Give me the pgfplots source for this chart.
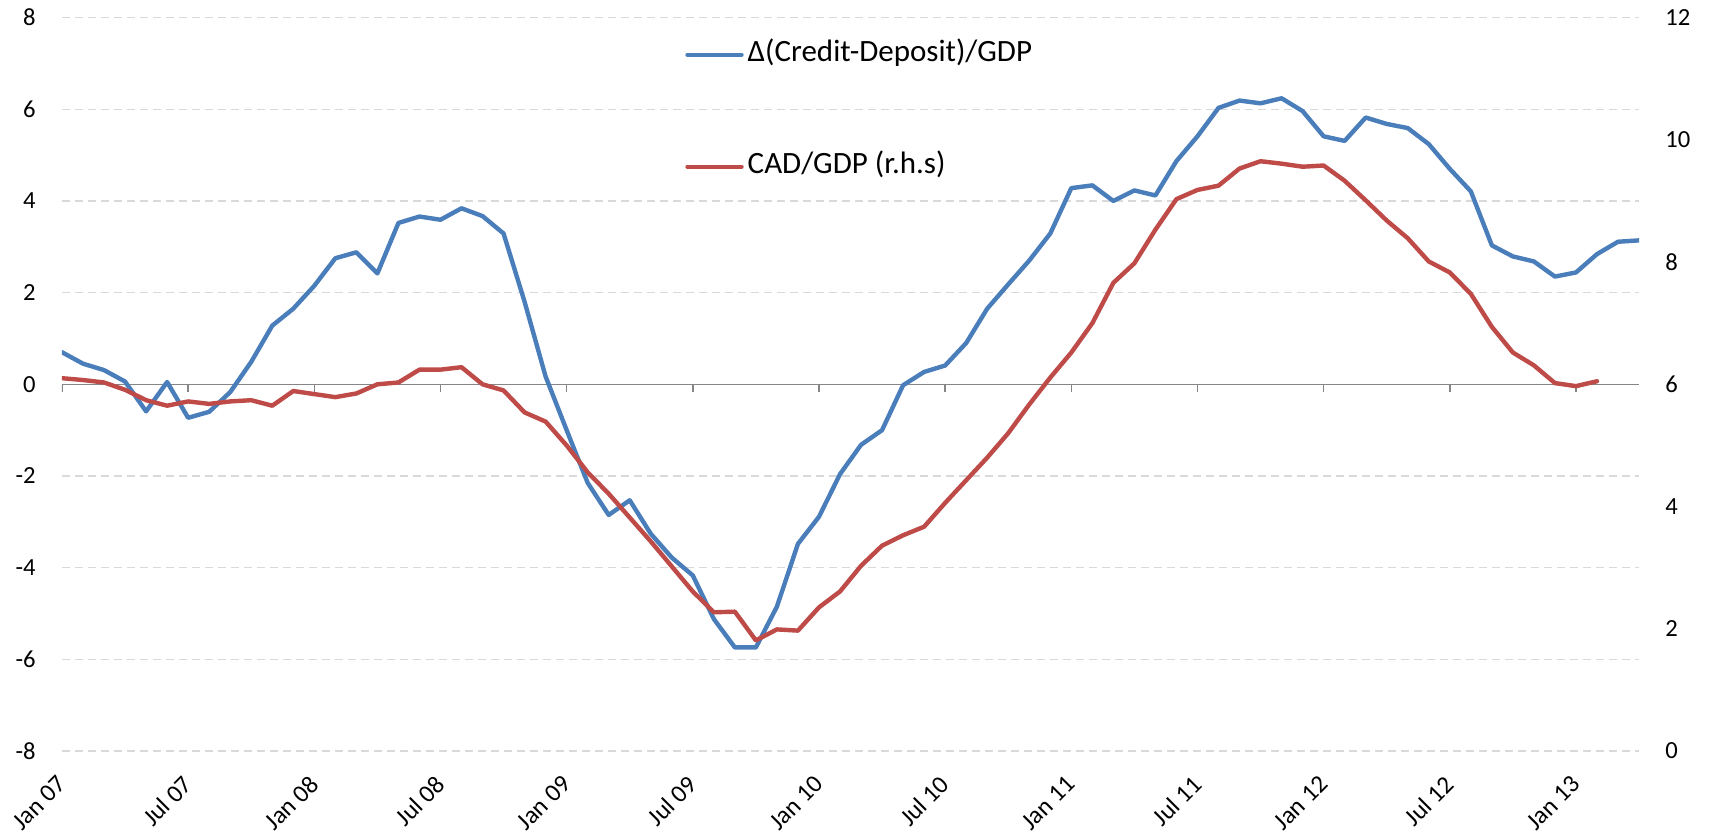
\documentclass[border=0pt]{standalone}
\usepackage{fontspec}
\setmainfont{Carlito}
\usepackage{pgfplots}
\usepackage{pgfplotstable}
\pgfplotsset{compat=1.18}
\definecolor{cdblue}{HTML}{4A7EBB}
\definecolor{cadred}{HTML}{BE4B48}
\definecolor{gridgray}{HTML}{D9D9D9}
\definecolor{axisgray}{HTML}{868686}

% month index: 0 = Jan 07
\pgfplotstableread{
m val
0 0.70
1 0.45
2 0.31
3 0.06
4 -0.59
5 0.05
6 -0.73
7 -0.60
8 -0.17
9 0.49
10 1.28
11 1.65
12 2.15
13 2.75
14 2.88
15 2.42
16 3.52
17 3.66
18 3.59
19 3.84
20 3.67
21 3.29
22 1.80
23 0.17
24 -1.00
25 -2.15
26 -2.85
27 -2.53
28 -3.26
29 -3.78
30 -4.17
31 -5.12
32 -5.74
33 -5.74
34 -4.85
35 -3.48
36 -2.89
37 -1.96
38 -1.32
39 -1.00
40 -0.02
41 0.27
42 0.41
43 0.90
44 1.65
45 2.18
46 2.70
47 3.29
48 4.28
49 4.34
50 4.00
51 4.23
52 4.12
53 4.87
54 5.41
55 6.03
56 6.19
57 6.13
58 6.24
59 5.96
60 5.41
61 5.31
62 5.82
63 5.68
64 5.59
65 5.24
66 4.70
67 4.21
68 3.03
69 2.79
70 2.68
71 2.35
72 2.44
73 2.84
74 3.11
75 3.14
}\creditdata

\pgfplotstableread{
m val
0 6.10
1 6.07
2 6.03
3 5.91
4 5.74
5 5.65
6 5.72
7 5.68
8 5.72
9 5.74
10 5.65
11 5.89
12 5.84
13 5.79
14 5.85
15 6.00
16 6.03
17 6.24
18 6.24
19 6.28
20 6.00
21 5.90
22 5.54
23 5.39
24 5.00
25 4.56
26 4.21
27 3.82
28 3.43
29 3.02
30 2.61
31 2.27
32 2.28
33 1.81
34 1.99
35 1.97
36 2.35
37 2.61
38 3.03
39 3.36
40 3.53
41 3.67
42 4.06
43 4.43
44 4.80
45 5.20
46 5.67
47 6.11
48 6.52
49 7.00
50 7.66
51 7.98
52 8.53
53 9.03
54 9.18
55 9.25
56 9.53
57 9.65
58 9.61
59 9.56
60 9.58
61 9.33
62 9.01
63 8.68
64 8.39
65 8.01
66 7.83
67 7.48
68 6.94
69 6.52
70 6.31
71 6.02
72 5.97
73 6.05
}\caddata

\pgfplotsset{
  chartbase/.style={
    width=788.5pt, height=366.7pt, scale only axis,
    xmin=0, xmax=75,
    /pgf/number format/assume math mode=true,
    tick label style={font=\fontsize{12.3}{14}\selectfont},
    major tick length=0pt,
    axis line style={draw=none},
  },
  cdline/.style={cdblue, line width=2.2pt, line join=round, line cap=round},
  cadline/.style={cadred, line width=2.2pt, line join=round, line cap=round},
}

\begin{document}
\begin{tikzpicture}
\begin{axis}[chartbase,
  ymin=-8, ymax=8, ytick={-8,-6,...,8},
  yticklabel style={anchor=east, inner sep=0pt, xshift=-13pt},
  ymajorgrids,
  major grid style={gridgray, dash pattern=on 4pt off 2.5pt, line width=0.6pt},
  xtick={0,6,...,72},
  xticklabels={Jan 07,Jul 07,Jan 08,Jul 08,Jan 09,Jul 09,Jan 10,Jul 10,Jan 11,Jul 11,Jan 12,Jul 12,Jan 13},
  xticklabel style={yshift=-14.5pt, rotate=45, anchor=east, inner sep=0pt,
    font=\fontsize{12.5}{14}\selectfont},
  extra y ticks={0}, extra y tick labels={},
  extra y tick style={ymajorgrids, major grid style={solid, axisgray, line width=0.8pt}},
]
\pgfplotsinvokeforeach{0,6,...,72}{
  \draw[axisgray, line width=0.8pt] (axis cs:#1,0) -- ++(0pt,-4pt);
}
\addplot[cdline] table[x=m, y=val] {\creditdata};
\coordinate (bbsw) at (rel axis cs:-0.0393,-0.1173);
\coordinate (bbne) at (rel axis cs:1.0450,1.024);
\end{axis}

\begin{axis}[chartbase,
  ymin=0, ymax=12, ytick={0,2,...,12},
  hide x axis,
  axis y line*=right,
  yticklabel style={anchor=west, inner sep=0pt, xshift=13pt},
  legend style={draw=none, fill=none, at={(rel axis cs:0.395,0.873)}, anchor=west,
    inner sep=0pt, row sep=41pt, column sep=2pt,
    font=\fontsize{15.5}{18}\selectfont,
    nodes={inner sep=0pt, text height=11pt, text depth=4pt}},
  legend cell align=left,
  legend image code/.code={\draw[#1] (0pt,0pt) -- (27pt,0pt);},
]
\addlegendimage{cdline}
\addlegendentry{Δ(Credit-Deposit)/GDP}
\addplot[cadline] table[x=m, y=val] {\caddata};
\addlegendentry{CAD/GDP (r.h.s)}
\end{axis}
\pgfresetboundingbox
\path[use as bounding box] (bbsw) rectangle (bbne);
\end{tikzpicture}
\end{document}
